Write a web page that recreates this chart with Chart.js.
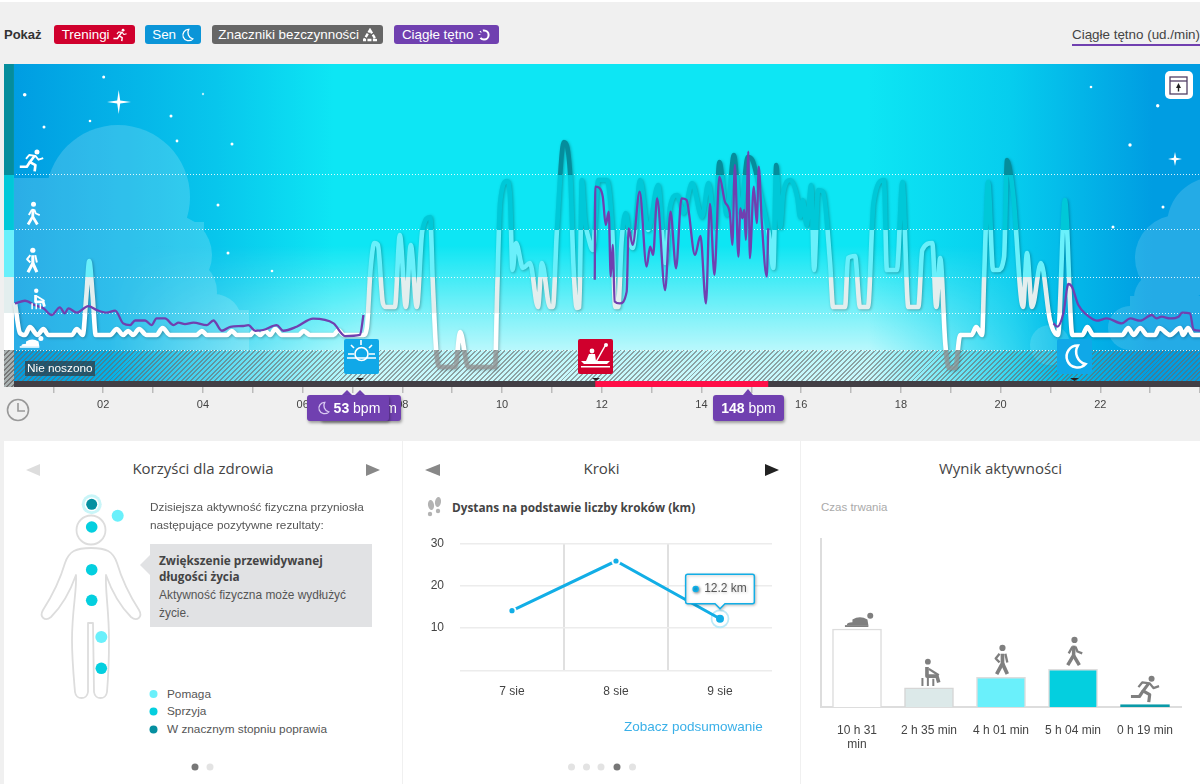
<!DOCTYPE html>
<html>
<head>
<meta charset="utf-8">
<title>Aktywność</title>
<script src="https://cdn.jsdelivr.net/npm/chart.js"></script>
<style>
  html, body { margin:0; padding:0; }
  body { width:1200px; height:784px; overflow:hidden; position:relative; background:#f0f0f0; font-family:"Liberation Sans",Arial,sans-serif; color:#555; }
  .abs { position:absolute; white-space:nowrap; }
  .badge { position:absolute; top:25px; height:19px; line-height:19px; border-radius:3px; color:#fff; font-size:13.4px; text-align:center; white-space:nowrap; }
  .badge svg { width:14px; height:14px; vertical-align:-3px; }
  .panel { position:absolute; top:441px; height:343px; background:#fff; }
  .title { position:absolute; top:458px; font:15px "Open Sans",sans-serif; color:#444; text-align:center; }
  .bpm { position:absolute; top:395px; height:26px; line-height:26px; background:#7040b0; color:#fff; border-radius:3px; font-size:14px; text-align:center; box-shadow:1px 2px 3px rgba(0,0,0,.35); white-space:nowrap; }
  canvas { position:absolute; }
  #sky { position:absolute; left:14px; top:64px; width:1186px; height:323px; background:linear-gradient(90deg,#009de2 0,#08c6ec 17%,#0de6f4 27%,#0de6f4 72%,#06cdee 84%,#009de2 96%); }
  #glow { position:absolute; left:14px; top:64px; width:1186px; height:323px; background:linear-gradient(180deg,rgba(255,255,255,0) 56%,rgba(255,255,255,.72) 89%,rgba(255,255,255,.8) 100%);
          -webkit-mask-image:linear-gradient(90deg,transparent 8%,#000 30%,#000 72%,transparent 88%); mask-image:linear-gradient(90deg,transparent 8%,#000 30%,#000 72%,transparent 88%); }
  #hatch { position:absolute; left:14px; top:350px; width:1186px; height:31px; background:repeating-linear-gradient(135deg,rgba(105,105,105,.6) 0 1.4px,transparent 1.4px 3.4px); }
  #hatchStrip { position:absolute; left:4px; top:350px; width:10px; height:37px; z-index:3; background:repeating-linear-gradient(135deg,#777 0 1.4px,#a9b2b2 1.4px 3.4px); }
  #overlay { position:absolute; left:0; top:0; z-index:3; }
  .txt { z-index:4; }
</style>
</head>
<body>
<svg width="0" height="0" style="position:absolute">
  <defs>
    <symbol id="run" viewBox="0 0 32 32"><circle cx="23" cy="5" r="3.2" fill="currentColor"/><g fill="none" stroke="currentColor" stroke-width="3.4" stroke-linejoin="round"><path d="M20 10 L14 18 L21 22 L20 30"/><path d="M14 18 L10 24 L1 24"/><path d="M9 14 L13 9 L21 10 L25 15 L31 13" stroke-width="2.4"/></g></symbol>
    <symbol id="walk" viewBox="0 0 32 32"><circle cx="16" cy="4" r="3.2" fill="currentColor"/><g fill="none" stroke="currentColor" stroke-width="3.6" stroke-linejoin="round"><path d="M15.5 10 L15 20 L9 30"/><path d="M15 20 L21 30"/><path d="M14 11 L10 18" stroke-width="2.4"/><path d="M17 11 L19 16 L24 18" stroke-width="2.4"/></g></symbol>
    <symbol id="stand" viewBox="0 0 32 32"><circle cx="17" cy="4" r="3.2" fill="currentColor"/><g fill="none" stroke="currentColor" stroke-width="3.8" stroke-linejoin="round"><path d="M17 10 L17 20 L11 31"/><path d="M17 20 L22 31"/><path d="M14 10 L10 15 L14 19" stroke-width="2.4"/><path d="M20 10 L22 19" stroke-width="2.4"/></g></symbol>
    <symbol id="sit" viewBox="0 0 32 32"><circle cx="12" cy="4" r="3.2" fill="currentColor"/><g fill="none" stroke="currentColor" stroke-width="4" stroke-linejoin="round"><path d="M11 10 L11 20 L22 20 L24 27"/><path d="M13 12 L24 19" stroke-width="2.6"/><path d="M6 22 L6 31 M12 22 L12 31 M18 23 L18 31" stroke-width="2.2"/></g></symbol>
    <symbol id="lie" viewBox="0 0 32 16"><circle cx="28" cy="4" r="3.2" fill="currentColor"/><path d="M9 8 Q17 3 25 8 L26 14 L3 14 Q3 11 9 11 Z" fill="currentColor"/><path d="M1 15 L26 15" stroke="currentColor" stroke-width="2"/></symbol>
    <symbol id="moon" viewBox="0 0 32 32"><path d="M20 3 A13 13 0 1 0 29 25 A15 15 0 0 1 20 3 Z" fill="none" stroke="currentColor" stroke-width="3"/></symbol>
  </defs>
</svg>

<div class="abs" style="left:0;top:0;width:1200px;height:2px;background:#fff"></div>
<div class="abs" style="left:4px;top:27px;font-size:13px;font-weight:bold;color:#333">Pokaż</div>
<div class="badge" style="left:54px;width:81px;background:#d0002d">Treningi <svg style="color:#fff"><use href="#run"/></svg></div>
<div class="badge" style="left:145px;width:56px;background:#0b95d8">Sen <svg style="color:#fff"><use href="#moon"/></svg></div>
<div class="badge" style="left:212px;width:171px;background:#666">Znaczniki bezczynności <svg viewBox="0 0 14 14"><path d="M7 2 L13 12 L1 12 Z" fill="none" stroke="#fff" stroke-width="2.4" stroke-dasharray="4 1.4"/></svg></div>
<div class="badge" style="left:394px;width:105px;background:#7040b0">Ciągłe tętno <svg viewBox="0 0 14 14"><circle cx="7" cy="7" r="4.6" fill="none" stroke="#fff" stroke-width="2" stroke-dasharray="11 3 1 2 1 2"/></svg></div>
<div class="abs" style="left:1072px;top:27px;font-size:13.4px;color:#444">Ciągłe tętno (ud./min)</div>
<div class="abs" style="left:1072px;top:44px;width:128px;height:2px;background:#7040b0"></div>

<div id="sky"></div>
<svg class="abs" style="left:0;top:0" width="1200" height="387">
  <defs><clipPath id="skyClip"><rect x="14" y="64" width="1186" height="323"/></clipPath></defs>
  <g clip-path="url(#skyClip)">
    <g fill="#fff" opacity=".17">
      <circle cx="118" cy="197" r="72"/><rect x="14" y="178" width="100" height="172"/><rect x="14" y="222" width="190" height="128"/>
      <circle cx="172" cy="255" r="40"/><circle cx="182" cy="292" r="35"/><circle cx="214" cy="322" r="28"/><rect x="14" y="310" width="235" height="40"/>
    </g>
    <g fill="#fff" opacity=".14">
      <circle cx="1215" cy="225" r="48"/><circle cx="1178" cy="258" r="43"/><circle cx="1160" cy="298" r="26"/><rect x="1130" y="296" width="70" height="54"/><circle cx="1130" cy="328" r="22"/><circle cx="1050" cy="345" r="20"/>
    </g>
    <g fill="#fff">
      <circle cx="24.7" cy="94.7" r="1.8"/><circle cx="103.7" cy="77" r="1.5"/><circle cx="203" cy="94" r="1.2" opacity=".7"/><circle cx="171" cy="116" r="1.5"/>
      <circle cx="90" cy="121" r="1.3"/><circle cx="44" cy="127" r="1.5"/><circle cx="177" cy="141" r="1.4"/><circle cx="232" cy="144" r="1.5"/><circle cx="218" cy="205" r="1.5"/>
      <circle cx="228" cy="253" r="1.5"/><circle cx="272" cy="271" r="1.3"/><circle cx="1091" cy="87" r="1.3"/><circle cx="1157.7" cy="105.7" r="1.7"/><circle cx="1130" cy="145" r="1.7"/>
      <circle cx="1163" cy="207" r="1.5"/><circle cx="1113" cy="227" r="1.5"/>
      <path d="M118.7 90 L120.2 100.5 L131 102 L120.2 103.5 L118.7 114 L117.2 103.5 L107 102 L117.2 100.5 Z"/>
      <path d="M1175 152 L1176.2 157.8 L1182 159 L1176.2 160.2 L1175 166 L1173.8 160.2 L1168 159 L1173.8 157.8 Z"/>
    </g>
  </g>
</svg>
<div id="glow"></div>
<div id="hatch"></div>
<div id="hatchStrip"></div>
<canvas id="dayChart" width="1200" height="361" style="left:0;top:64px;z-index:2"></canvas>

<svg id="overlay" width="1200" height="784">
  <!-- zone figures -->
  <g color="#fff">
    <use href="#run" x="19" y="148" width="25" height="25"/>
    <use href="#walk" x="21" y="201" width="25" height="25"/>
    <use href="#stand" x="19" y="247" width="26" height="26"/>
    <use href="#sit" x="28" y="288" width="22" height="22"/>
    <use href="#lie" x="19" y="335" width="25" height="13"/>
  </g>
  <!-- workout and sleep markers -->
  <rect x="344" y="339" width="35" height="35" rx="2" fill="#10a8e8"/>
  <g fill="none" stroke="#fff" stroke-width="1.6"><path d="M348 354 H354 M369 354 H375 M347 358 H376"/><path d="M355 354 A6.5 6.5 0 1 1 368 354 A6.5 6.5 0 1 1 355 354" /><path d="M361 340 V345 M351 345 L354 348 M372 345 L369 348"/></g>
  <path d="M356 378 H364 L360 381 Z" fill="#222"/>
  <rect x="578" y="339" width="35" height="35" rx="2" fill="#d0002d"/>
  <g fill="#fff"><circle cx="592" cy="351" r="2.4"/><path d="M589 354 L595 354 L596 361 L586 361 Z"/><path d="M581 361 H610 L607 364 H584 Z"/><path d="M581 366 H610 V367.5 H581 Z"/></g>
  <path d="M596 362 L605 346" stroke="#fff" stroke-width="1.5"/><circle cx="606" cy="345" r="2" fill="#fff"/>
  <path d="M592 378 H600 L596 381 Z" fill="#222"/>
  <rect x="1057" y="339" width="35" height="35" rx="2" fill="#10a8e8"/>
  <use href="#moon" x="1061" y="343" width="27" height="27" color="#fff"/>
  <path d="M1070 378 H1079 L1074.5 381 Z" fill="#222"/>
  <!-- expand button -->
  <rect x="1165" y="71" width="28" height="28" rx="5" fill="#fff"/>
  <rect x="1170" y="77" width="17" height="17" fill="none" stroke="#523f66" stroke-width="1.3"/><path d="M1170 81 H1187" stroke="#523f66" stroke-width="1.3"/><path d="M1178.5 83 L1181 88 H1179.2 V91.5 H1177.8 V88 H1176 Z" fill="#222"/>
  <!-- clock -->
  <circle cx="18" cy="410" r="10.5" fill="none" stroke="#999" stroke-width="1.6"/><path d="M18 403 V411 H25" fill="none" stroke="#999" stroke-width="1.6"/>
  <!-- bpm tooltip pointers -->
  <path d="M342 395 L347 390 L352 395 Z" fill="#7040b0"/><path d="M355 395 L360 390 L365 395 Z" fill="#7040b0"/><path d="M743 395 L748 389 L753 395 Z" fill="#7040b0"/>
</svg>

<div class="abs txt" style="left:25px;top:361px;height:15px;line-height:15px;padding:0 2px;background:rgba(45,60,70,.72);color:#fff;font-size:11.8px">Nie noszono</div>
<div class="bpm txt" style="left:320px;width:81px;text-align:right;padding-right:0"><span style="padding-right:4px">bpm</span></div>
<div class="bpm txt" style="left:307px;width:82px"><svg width="14" height="14" style="vertical-align:-2px;color:#d9c9f2"><use href="#moon"/></svg> <b>53</b> bpm</div>
<div class="bpm txt" style="left:713px;width:71px"><b>148</b> bpm</div>

<div class="panel" style="left:4px;width:398px"></div>
<div class="panel" style="left:403px;width:397px"></div>
<div class="panel" style="left:801px;width:399px"></div>
<div class="title" style="left:4px;width:398px">Korzyści dla zdrowia</div>
<div class="title" style="left:403px;width:397px">Kroki</div>
<div class="title" style="left:801px;width:399px">Wynik aktywności</div>

<svg class="abs" style="left:0;top:0;z-index:1" width="1200" height="784">
  <path d="M40 464 V476 L26 470 Z" fill="#ddd"/><path d="M366 464 V476 L380 470 Z" fill="#888"/>
  <path d="M440 464 V476 L425 470 Z" fill="#888"/><path d="M765 464 V476 L779 470 Z" fill="#222"/>
  <!-- body -->
  <g fill="none" stroke="#ddd" stroke-width="1.8" stroke-linejoin="round">
    <circle cx="91" cy="530" r="14.5"/>
    <path d="M91 548 C76 548 69 551 65 563 C60 580 52 596 43 610 C39 617 45 622 51 617 C60 608 70 592 76 575 C77 590 72 610 72 640 C72 660 74 680 75 692 C76 700 87 700 88 692 L88 623 H93 L94 692 C95 700 106 700 107 692 C108 680 109 660 109 640 C109 610 105 590 106 575 C112 592 122 608 131 617 C137 622 143 617 139 610 C130 596 122 580 117 563 C113 551 106 548 91 548 Z"/>
  </g>
  <circle cx="91.7" cy="504.3" r="10" fill="#0bd0dd" opacity=".22"/>
  <circle cx="91.7" cy="504.3" r="7" fill="#fff"/><circle cx="91.7" cy="504.3" r="5.5" fill="#058fa0"/>
  <g fill="#6af0fb"><circle cx="117.7" cy="515.7" r="6"/><circle cx="101.3" cy="637" r="6"/><circle cx="153.5" cy="694" r="4"/></g>
  <g fill="#04cfdf"><circle cx="91.7" cy="527" r="5.8"/><circle cx="91.7" cy="569.7" r="5.8"/><circle cx="91.7" cy="600.3" r="5.8"/><circle cx="101.3" cy="668.3" r="5.8"/><circle cx="153.5" cy="711.5" r="4"/></g>
  <circle cx="153.5" cy="729.5" r="4" fill="#058fa0"/>
  <path d="M150 555 V575 L140 565 Z" fill="#e1e2e4"/>
  <circle cx="195" cy="767" r="3.5" fill="#777"/><circle cx="210" cy="767" r="3.5" fill="#e3e3e3"/>
  <g fill="#e3e3e3"><circle cx="571.5" cy="767" r="3.5"/><circle cx="586.5" cy="767" r="3.5"/><circle cx="601" cy="767" r="3.5"/><circle cx="632.5" cy="767" r="3.5"/></g>
  <circle cx="617" cy="767" r="3.5" fill="#777"/>
  <!-- footsteps -->
  <g fill="#b3b3b3"><ellipse cx="431" cy="505" rx="3" ry="5" transform="rotate(-8 431 505)"/><circle cx="430" cy="514" r="2.2"/><ellipse cx="438" cy="502" rx="3" ry="5" transform="rotate(8 438 502)"/><circle cx="438" cy="511" r="2.2"/></g>
</svg>

<div class="abs" style="left:150px;top:498px;font-size:11.8px;line-height:18px;z-index:1">Dzisiejsza aktywność fizyczna przyniosła<br>następujące pozytywne rezultaty:</div>
<div class="abs" style="left:150px;top:544px;width:222px;height:83px;background:#e1e2e4"></div>
<div class="abs" style="left:159px;top:552px;font:bold 11.8px/16px 'Open Sans',sans-serif;color:#444">Zwiększenie przewidywanej<br>długości życia</div>
<div class="abs" style="left:159px;top:586px;font-size:11.9px;line-height:18px">Aktywność fizyczna może wydłużyć<br>życie.</div>
<div class="abs" style="left:167px;top:687px;font-size:11.8px">Pomaga</div>
<div class="abs" style="left:167px;top:704px;font-size:11.8px">Sprzyja</div>
<div class="abs" style="left:167px;top:722px;font-size:11.8px">W znacznym stopniu poprawia</div>

<div class="abs" style="left:452px;top:499px;font:bold 11.8px/16px 'Open Sans',sans-serif;color:#444">Dystans na podstawie liczby kroków (km)</div>
<canvas id="stepsChart" width="397" height="200" style="left:403px;top:520px"></canvas>
<div class="abs" style="left:624px;top:719px;font-size:13.5px;color:#3ab0e8">Zobacz podsumowanie</div>

<div class="abs" style="left:821px;top:501px;font-size:11.5px;color:#aaa">Czas trwania</div>
<canvas id="scoreChart" width="399" height="240" style="left:801px;top:520px"></canvas>
<svg class="abs" style="left:0;top:0;z-index:2" width="1200" height="784" color="#7f7f7f">
  <use href="#lie" x="844" y="612" width="30" height="15"/>
  <use href="#sit" x="917" y="658" width="29" height="29"/>
  <use href="#stand" x="986" y="644" width="31" height="31"/>
  <use href="#walk" x="1059" y="636" width="31" height="31"/>
  <use href="#run" x="1130" y="674" width="30" height="30"/>
</svg>

<script>
// whole day view: activity level (2 px per unit), heart rate on its own scale
const activityHours = [0.23,0.33,0.43,0.53,0.68,0.80,0.90,1.37,1.47,1.59,1.66,1.72,1.79,1.85,2.14,2.27,2.40,2.50,2.60,2.72,2.87,3.07,3.19,3.34,3.87,3.98,4.08,4.48,4.58,4.68,4.95,5.03,5.15,5.25,5.35,5.45,5.58,5.92,6.02,6.15,6.62,6.72,6.82,7.22,7.29,7.36,7.44,7.51,7.61,7.67,7.85,7.95,8.07,8.17,8.29,8.40,8.56,8.61,8.68,8.76,9.06,9.16,9.32,9.86,9.90,9.96,10.10,10.16,10.21,10.28,10.42,10.56,10.72,10.80,10.96,11.02,11.10,11.24,11.37,11.43,11.50,11.55,11.60,11.66,11.73,11.82,11.93,12.10,12.21,12.27,12.33,12.40,12.48,12.57,12.62,12.77,12.93,13.13,13.27,13.37,13.51,13.64,13.81,14.01,14.14,14.27,14.36,14.51,14.65,14.78,14.93,15.03,15.18,15.38,15.44,15.50,15.58,15.64,15.78,15.92,15.98,16.03,16.11,16.20,16.26,16.34,16.44,16.58,16.64,16.88,16.94,17.08,17.18,17.34,17.45,17.66,17.72,17.92,18.03,18.15,18.35,18.43,18.63,18.71,18.79,18.89,18.96,19.09,19.19,19.42,19.51,19.63,19.67,19.75,19.85,19.95,20.07,20.13,20.25,20.45,20.53,20.63,20.81,20.99,21.15,21.29,21.44,21.64,21.74,21.86,22.44,22.56,22.67,22.80,22.94,23.10,23.18,23.40,23.60,23.66,23.76,23.86,24];
const activityLevels = [42,27,26,30,26,29,26,26,29,26,45,63,45,26,26,29,26,28,26,29,26,26,29.5,26,26,28,26,26,28,26,26,28,26,28,26,29,26,26,28,26,26,28.5,26,26,30,58,72,71,42,40,40,76,40,71,40,78,85,53,18,10,10,27.5,10,10,45,92,103,95,58.5,72,59.5,62,40,62,40,40,78,122.5,105,62,39.5,40,103.5,83.5,75,68.5,103.5,103.5,78.5,40,40,73.5,87,72,69.5,103.5,78.5,101,62,90,96,87,102,85,102,80,112.5,86,116,87,115,113,97,72,59.5,111,80,97,103.5,95,85,93.5,81,101,58.5,98.5,97.5,62,40,40,64.5,65.5,40,40,92,103.5,58.5,58.5,102.5,40,40,68.5,72,40,64.5,22,9.5,9.5,26,26,30,26,55,102.5,58.5,58.5,65,113.5,97,40,67,40,62,33.5,26,93.5,26,26,30,26,26,29.5,26,29.5,26,26,29.5,26,29.5,26,29.5,26,26];
const hrHours = [0.23,0.43,0.63,0.80,0.97,1.13,1.23,1.30,1.47,1.70,1.87,2.07,2.24,2.40,2.54,2.64,2.84,2.97,3.07,3.24,3.41,3.51,3.64,3.81,4.08,4.21,4.38,4.55,4.81,4.91,5.05,5.21,5.48,5.61,5.88,6.21,6.62,6.85,7.15,7.22,7.5,
  11.86,11.87,11.96,12.02,12.08,12.14,12.18,12.22,12.26,12.36,12.50,12.54,12.62,12.76,12.90,12.97,13.03,13.11,13.27,13.38,13.49,13.60,13.70,13.87,13.98,14.09,14.17,14.26,14.36,14.47,14.57,14.62,14.67,14.74,14.78,14.82,14.86,14.89,14.94,14.97,15.05,15.11,15.15,15.21,15.31,15.34,18,
  21.06,21.14,21.26,21.36,21.43,21.56,21.73,21.93,22.13,22.43,22.60,22.80,23.03,23.13,23.23,23.40,23.57,23.64,23.80,23.87,24];
const hrBpm = [69,70.4,68,66.4,62.9,66.9,63.8,66.4,64.1,67.6,65.5,64.1,65.2,58.5,57.6,60,60,57.6,61.1,61.1,57.6,58.9,58.1,58.9,57.6,60,54.6,56.7,57.1,57.6,54.6,55,57.6,54.6,56.7,61,58.5,51.8,52.4,62.9,null,
  81.4,130.5,129.6,125.2,110.3,117.3,83.1,99.8,70,69,75.2,108.5,99.8,127.8,88.4,98.9,94.5,124.3,76,117.3,87.5,124.3,123.5,94.5,104.5,69,121.4,84,135.7,122.6,116.4,99.8,141.9,93.6,119,113.8,118.2,102.4,148.9,92.8,130.5,111.2,141,112,83.1,108.5,null,
  58.5,56.8,63.8,79.2,77.8,68.1,62.9,59.9,61.1,58.5,61.1,59.9,62.9,61.1,62,61.1,62,64.1,63.8,55.3,54.6];
const zoneLimits = [18.5,37,55,78.5,106];
const timelineHours = [0.21,24];
const workoutHours = [11.87,15.34];

// steps card
const stepDays = ['7 sie','8 sie','9 sie'];
const stepsKm = [14.1,25.8,12.2];

// activity score card
const durationLabels = [['10 h 31','min'],'2 h 35 min','4 h 01 min','5 h 04 min','0 h 19 min'];
const durationMinutes = [631,155,241,304,19];

const zoneColors = ['#ffffff','#e3eeee','#6af0fb','#00c8d8','#058d9c'];
const notWornColor = 'rgba(150,150,150,.75)';
const barColors = ['#ffffff','#dce9e9','#6af0fb','#04cfdf','#0a9aa8'];
const barBorders = ['#dddddd','#d6d6d6','#dddddd','#dddddd','#0a9aa8'];

Chart.defaults.animation = false;
Chart.defaults.font.family = '"Liberation Sans",Arial,sans-serif';
Chart.defaults.font.size = 12;
Chart.defaults.color = '#444';

function pairs(xs, ys) {
  return xs.map((x, i) => ({ x: x, y: ys[i] }));
}

// the activity line takes the colour of the zone it is passing through
function zoneStroke(context) {
  const chart = context.chart;
  const area = chart.chartArea;
  if (!area) return '#fff';
  const scale = chart.scales.y;
  const g = chart.ctx.createLinearGradient(0, area.top, 0, area.bottom);
  const at = v => (scale.getPixelForValue(v) - area.top) / (area.bottom - area.top);
  g.addColorStop(0, zoneColors[4]);
  for (let i = zoneLimits.length - 1; i >= 0; i--) {
    g.addColorStop(at(zoneLimits[i]), zoneColors[i]);
    g.addColorStop(at(zoneLimits[i]), i > 0 ? zoneColors[i - 1] : notWornColor);
  }
  g.addColorStop(1, notWornColor);
  return g;
}

const zoneStrip = {
  id: 'zoneStrip',
  beforeDatasetsDraw(chart) {
    const ctx = chart.ctx, y = chart.scales.y, x = chart.scales.x;
    const left = x.getPixelForValue(0) + 0.5, right = x.getPixelForValue(timelineHours[0]);
    const edges = zoneLimits.concat([y.max]);
    ctx.save();
    for (let i = 0; i < zoneColors.length; i++) {
      ctx.fillStyle = zoneColors[i];
      ctx.fillRect(left, y.getPixelForValue(edges[i + 1]), right - left, y.getPixelForValue(edges[i]) - y.getPixelForValue(edges[i + 1]));
    }
    ctx.restore();
  },
  beforeDatasetDraw(chart, args) {
    if (args.meta.label !== 'Aktywność') return;
    chart.ctx.save();
    chart.ctx.shadowColor = 'rgba(0,0,0,.28)';
    chart.ctx.shadowBlur = 3;
    chart.ctx.shadowOffsetX = 1;
    chart.ctx.shadowOffsetY = 1;
  },
  afterDatasetDraw(chart, args) {
    if (args.meta.label === 'Aktywność') chart.ctx.restore();
  }
};

new Chart(document.getElementById('dayChart'), {
  type: 'line',
  plugins: [zoneStrip],
  data: {
    datasets: [
      { label: 'Ciągłe tętno', data: pairs(hrHours, hrBpm), yAxisID: 'hr', borderColor: '#7040b0', borderWidth: 2.3, pointRadius: 0, cubicInterpolationMode: 'monotone', order: 1 },
      { label: 'Aktywność', data: pairs(activityHours, activityLevels), yAxisID: 'y', borderColor: zoneStroke, borderWidth: 4.6, pointRadius: 0, cubicInterpolationMode: 'monotone', order: 2 },
      { label: 'Trening', data: pairs(workoutHours, [1.5,1.5]), yAxisID: 'y', borderColor: '#ff0f47', borderWidth: 6, pointRadius: 0, borderCapStyle: 'butt', order: 3 },
      { label: 'Oś czasu', data: pairs(timelineHours, [1.5,1.5]), yAxisID: 'y', borderColor: '#423f45', borderWidth: 6, pointRadius: 0, borderCapStyle: 'butt', order: 4 }
    ]
  },
  options: {
    responsive: false,
    events: [],
    layout: { padding: { left: 3.5, right: 0, top: 0, bottom: 0 } },
    plugins: { legend: { display: false }, tooltip: { enabled: false } },
    scales: {
      x: {
        type: 'linear', min: 0, max: 24,
        afterFit: s => { s.height = 38; s.paddingLeft = 0; s.paddingRight = 0; },
        border: { display: false },
        grid: { drawOnChartArea: false, tickLength: 6, lineWidth: 1.5, tickColor: c => (c.tick && c.tick.value === 0 ? 'transparent' : '#bbbbbb') },
        ticks: {
          stepSize: 1, autoSkip: false, maxRotation: 0, padding: 5, color: '#444', font: { size: 11 },
          callback: v => (v % 2 === 0 && v > 0 && v < 24 ? String(v).padStart(2, '0') : '')
        }
      },
      y: {
        min: 0, max: 161.5,
        afterFit: s => { s.width = 0; },
        afterBuildTicks: s => { s.ticks = zoneLimits.map(v => ({ value: v })); },
        border: { display: false, dash: [1, 2] },
        grid: { color: 'rgba(255,255,255,.85)', drawTicks: false, lineWidth: 1 },
        ticks: { display: false }
      },
      hr: { min: 25, max: 195, display: false, position: 'right' }
    }
  }
});

// steps: a ring sits behind the selected day
const selectedDay = stepsKm.length - 1;
const softTooltip = {
  id: 'softTooltip',
  beforeTooltipDraw(chart) {
    chart.ctx.save();
    chart.ctx.shadowColor = 'rgba(0,0,0,.22)';
    chart.ctx.shadowBlur = 3;
    chart.ctx.shadowOffsetX = 1;
    chart.ctx.shadowOffsetY = 1;
  },
  afterTooltipDraw(chart) {
    chart.ctx.restore();
  }
};
const stepsChart = new Chart(document.getElementById('stepsChart'), {
  type: 'line',
  plugins: [softTooltip],
  data: {
    labels: stepDays,
    datasets: [
      { label: 'ring', data: stepsKm.map((v, i) => (i === selectedDay ? v : null)), showLine: false, pointRadius: 8.5, pointBackgroundColor: '#fff', pointBorderColor: '#bdeaf8', pointBorderWidth: 1.8, order: 2 },
      { label: 'Dystans', data: stepsKm, borderColor: '#12aee6', borderWidth: 3, tension: 0, pointRadius: [3.6,3.6,4], pointBackgroundColor: '#12aee6', pointBorderColor: '#fff', pointBorderWidth: [2,2,0], order: 1 }
    ]
  },
  options: {
    responsive: false,
    events: [],
    layout: { padding: { left: 0, right: 28, top: 22, bottom: 0 } },
    plugins: {
      legend: { display: false },
      tooltip: {
        enabled: true, backgroundColor: '#fff', borderColor: '#12aee6', borderWidth: 1.5, cornerRadius: 2,
        bodyColor: '#555', bodyFont: { size: 12 }, padding: { x: 7.5, y: 7.5 }, caretSize: 5, caretPadding: 10,
        yAlign: 'bottom', xAlign: 'center', displayColors: true, usePointStyle: true, boxWidth: 5, boxHeight: 5, boxPadding: 4,
        callbacks: {
          title: () => '',
          label: c => c.parsed.y + ' km',
          labelColor: () => ({ backgroundColor: '#12aee6', borderColor: '#12aee6' }),
          labelPointStyle: () => ({ pointStyle: 'circle', rotation: 0 })
        }
      }
    },
    scales: {
      x: {
        offset: true,
        afterFit: s => { s.height = 49.5; },
        border: { display: false },
        grid: { offset: true, drawTicks: false, lineWidth: 2, color: c => (c.index === 1 || c.index === 2 ? '#e0e0e0' : 'transparent') },
        ticks: { padding: 14, color: '#444' }
      },
      y: {
        min: 0, max: 30,
        afterFit: s => { s.width = 57; },
        border: { display: false },
        grid: { drawTicks: false, lineWidth: 1.4, color: '#ececec' },
        ticks: { stepSize: 10, padding: 16, color: '#444', callback: v => (v === 0 ? '' : v) }
      }
    }
  }
});
stepsChart.tooltip.setActiveElements([{ datasetIndex: 1, index: selectedDay }], { x: 0, y: 0 });
stepsChart.update();

new Chart(document.getElementById('scoreChart'), {
  type: 'bar',
  data: {
    labels: durationLabels,
    datasets: [{ data: durationMinutes, backgroundColor: barColors, borderColor: barBorders, borderWidth: 1.5, barThickness: 49 }]
  },
  options: {
    responsive: false,
    events: [],
    layout: { padding: { left: 20, right: 19, top: 19, bottom: 0 } },
    plugins: { legend: { display: false }, tooltip: { enabled: false } },
    scales: {
      x: {
        afterFit: s => { s.height = 53; },
        border: { color: '#dddddd', width: 2 },
        grid: { display: false },
        ticks: { padding: 8, color: '#444', maxRotation: 0, autoSkip: false }
      },
      y: {
        min: 0, max: 1359,
        afterFit: s => { s.width = 0; },
        border: { color: '#dddddd', width: 2 },
        grid: { display: false },
        ticks: { display: false }
      }
    }
  }
});
</script>
</body>
</html>
